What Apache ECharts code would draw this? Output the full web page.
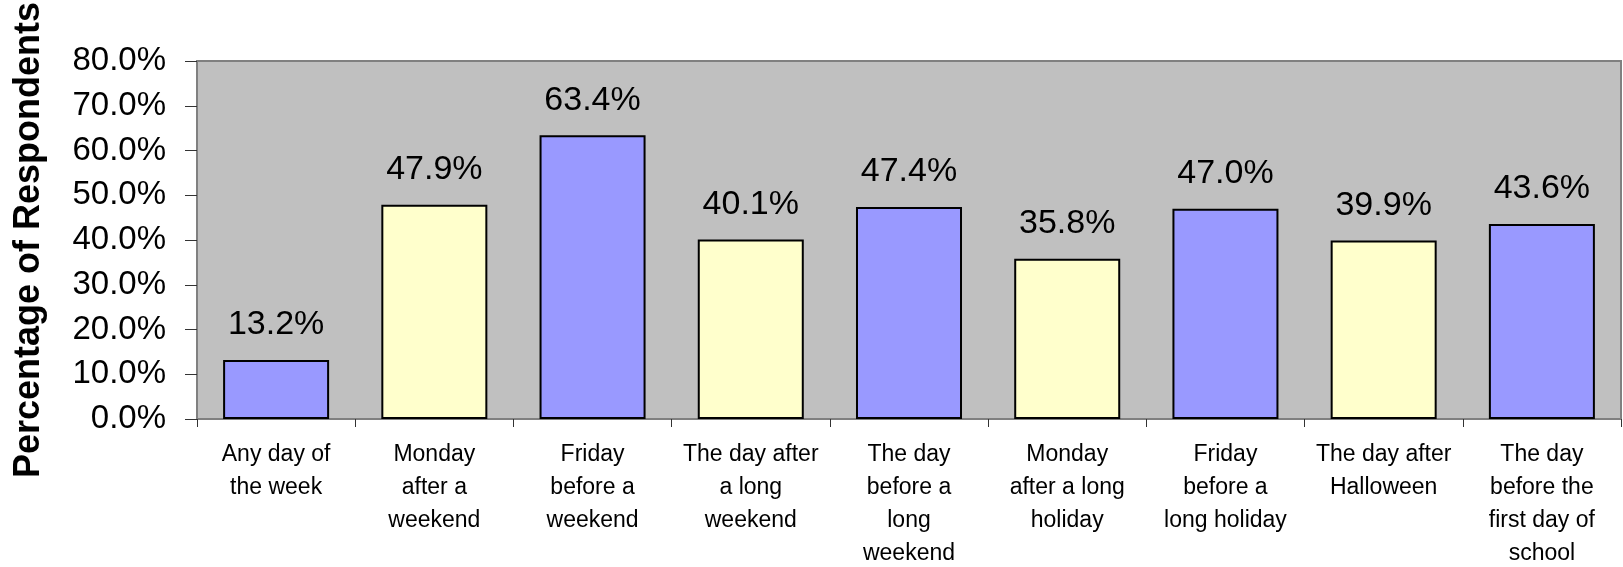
<!DOCTYPE html>
<html>
<head>
<meta charset="utf-8">
<script src="https://cdn.jsdelivr.net/npm/echarts@6/dist/echarts.min.js"></script>
<style>
  html, body { margin: 0; padding: 0; background: #fff; }
  #chart { width: 1623px; height: 567px; }
</style>
</head>
<body>
<div id="chart"></div>
<script>
// categories (line breaks as in the original axis labels)
var categories = [
  "Any day of\nthe week",
  "Monday\nafter a\nweekend",
  "Friday\nbefore a\nweekend",
  "The day after\na long\nweekend",
  "The day\nbefore a\nlong\nweekend",
  "Monday\nafter a long\nholiday",
  "Friday\nbefore a\nlong holiday",
  "The day after\nHalloween",
  "The day\nbefore the\nfirst day of\nschool"
];
// percent of respondents
var values = [13.2, 47.9, 63.4, 40.1, 47.4, 35.8, 47.0, 39.9, 43.6];
var yTicks = [0, 10, 20, 30, 40, 50, 60, 70, 80];

var FONT = '"Liberation Sans", Arial, sans-serif';
var chart = echarts.init(document.getElementById("chart"));

var option = {
  animation: false,
  grid: {
    show: true,
    left: 197,
    right: 2,
    top: 61,
    bottom: 148,
    outerBoundsMode: "none",
    containLabel: false,
    backgroundColor: "#C0C0C0",
    borderColor: "#808080",
    borderWidth: 2
  },
  xAxis: {
    type: "category",
    data: categories,
    axisLine: { show: true, lineStyle: { color: "#808080", width: 2 } },
    axisTick: { show: true, length: 8, lineStyle: { color: "#333", width: 1 } },
    axisLabel: {
      color: "#000",
      fontFamily: FONT,
      fontSize: 23,
      lineHeight: 33,
      margin: 19,
      interval: 0
    },
    splitLine: { show: false }
  },
  yAxis: {
    type: "value",
    min: yTicks[0],
    max: yTicks[yTicks.length - 1],
    interval: 10,
    name: "Percentage of Respondents",
    nameLocation: "middle",
    nameGap: 150,
    nameTextStyle: {
      color: "#000",
      fontFamily: FONT,
      fontSize: 36,
      fontWeight: "bold"
    },
    axisLine: { show: true, lineStyle: { color: "#808080", width: 2 } },
    axisTick: { show: true, length: 12, lineStyle: { color: "#333", width: 1 } },
    axisLabel: {
      color: "#000",
      fontFamily: FONT,
      fontSize: 33,
      margin: 31,
      formatter: function (v) { return v.toFixed(1) + "%"; }
    },
    splitLine: { show: false }
  },
  series: [
    {
      type: "bar",
      data: values,
      barWidth: "67%",
      itemStyle: {
        color: function (p) { return p.dataIndex % 2 === 0 ? "#9999FF" : "#FFFFCC"; },
        borderColor: "#000",
        borderWidth: 2
      },
      label: {
        show: true,
        position: "top",
        distance: 18,
        color: "#000",
        fontFamily: FONT,
        fontSize: 34,
        formatter: function (p) { return p.value.toFixed(1) + "%"; }
      }
    }
  ]
};

chart.setOption(option);
</script>
</body>
</html>
